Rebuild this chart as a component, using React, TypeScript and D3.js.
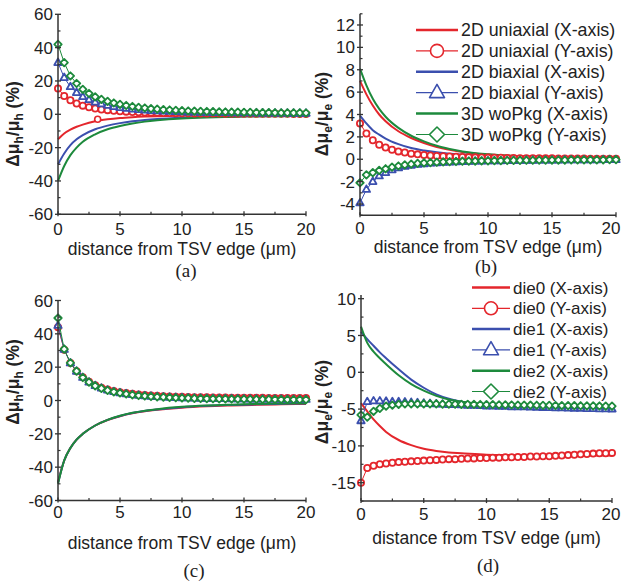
import React from "react";
import * as d3 from "d3";

// ---------- data ----------
const xsMarker = [0,0.5,1,1.5,2,2.5,3,3.5,4,4.5,5,5.5,6,6.5,7,7.5,8,8.5,9,9.5,10,10.5,11,11.5,12,12.5,13,13.5,14,14.5,15,15.5,16,16.5,17,17.5,18,18.5,19,19.5,20];
const xsLine = [0,0.5,1,1.5,2,3,4,5,6,7,8,10,12,14,16,18,20];
const xTicks = [0,5,10,15,20];
const xMinor = [2.5,7.5,12.5,17.5];

// (a) hole mobility, 2D/3D
const aRedX = [-15,-11.5,-9.2,-7.5,-6.2,-4.2,-3.0,-2.2,-1.7,-1.35,-1.1,-0.75,-0.55,-0.45,-0.38,-0.32,-0.28];
const aBlueX = [-30,-23.5,-18.5,-15,-12.5,-9,-6.8,-5.3,-4.2,-3.4,-2.8,-2.0,-1.5,-1.2,-1.0,-0.88,-0.8];
const aGreenX = [-40,-31,-24.5,-20,-16.5,-12,-9,-7,-5.5,-4.4,-3.6,-2.5,-1.9,-1.55,-1.3,-1.1,-1.0];
const aRedY = [15.5,11,8.4,6.5,5.2,4.2,3.5,2.9,2.5,2.1,1.8,1.6,1.4,1.25,1.1,1.0,0.9,0.82,0.75,0.68,0.62,0.58,0.54,0.5,0.47,0.44,0.42,0.4,0.38,0.36,0.34,0.33,0.32,0.3,0.29,0.28,0.27,0.26,0.25,0.24,0.23];
const aBlueY = [31,22,16.5,13,10.5,8.7,7.3,6.2,5.3,4.6,4.0,3.5,3.1,2.8,2.5,2.2,2.0,1.8,1.65,1.5,1.4,1.3,1.2,1.1,1.05,1.0,0.95,0.9,0.85,0.8,0.78,0.75,0.72,0.7,0.67,0.65,0.62,0.6,0.58,0.56,0.55];
const aGreenY = [42,31,23,18.5,15,12.5,10.5,9,7.8,6.8,6,5.3,4.7,4.2,3.8,3.4,3.1,2.8,2.6,2.4,2.2,2.0,1.9,1.8,1.7,1.6,1.5,1.4,1.35,1.3,1.2,1.15,1.1,1.05,1.0,0.95,0.9,0.88,0.85,0.82,0.8];
const aRedXMarkX = [3.2];
const aRedXMarkY = [-3];

// (b) electron mobility, 2D/3D
const bRedX = [7.0,5.8,4.8,4.0,3.4,2.5,1.9,1.45,1.1,0.85,0.65,0.42,0.3,0.22,0.17,0.13,0.1];
const bBlueX = [3.9,3.2,2.6,2.2,1.85,1.35,1.0,0.78,0.62,0.5,0.42,0.3,0.22,0.17,0.13,0.1,0.08];
const bGreenX = [8.1,6.6,5.4,4.5,3.8,2.8,2.1,1.6,1.2,0.92,0.7,0.45,0.3,0.22,0.17,0.13,0.1];
const bRedY = [3.2,2.3,1.7,1.3,1.05,0.85,0.7,0.6,0.5,0.44,0.38,0.34,0.3,0.27,0.24,0.22,0.2,0.18,0.17,0.16,0.15,0.14,0.13,0.12,0.11,0.1,0.1,0.09,0.09,0.08,0.08,0.07,0.07,0.06,0.06,0.06,0.05,0.05,0.05,0.04,0.04];
const bBlueY = [-3.9,-2.7,-2.0,-1.5,-1.2,-0.95,-0.78,-0.65,-0.55,-0.47,-0.41,-0.36,-0.32,-0.29,-0.26,-0.24,-0.22,-0.2,-0.18,-0.17,-0.16,-0.15,-0.14,-0.13,-0.12,-0.11,-0.1,-0.1,-0.09,-0.09,-0.08,-0.08,-0.07,-0.07,-0.07,-0.06,-0.06,-0.06,-0.05,-0.05,-0.05];
const bGreenY = [-2.1,-1.4,-1.2,-1.0,-0.85,-0.7,-0.6,-0.5,-0.43,-0.37,-0.33,-0.3,-0.27,-0.24,-0.22,-0.2,-0.18,-0.17,-0.16,-0.15,-0.14,-0.13,-0.12,-0.11,-0.1,-0.1,-0.09,-0.09,-0.08,-0.08,-0.07,-0.07,-0.07,-0.06,-0.06,-0.06,-0.05,-0.05,-0.05,-0.04,-0.04];

// (c) hole mobility, dies
const cRedX = [-49,-36,-28.5,-23.5,-20,-15,-11.7,-9.4,-7.7,-6.5,-5.6,-4.3,-3.5,-3.0,-2.6,-2.3,-2.1];
const cBlueX = [-49.5,-36,-28.5,-23.5,-20,-15,-11.6,-9.3,-7.5,-6.3,-5.4,-4.0,-3.2,-2.7,-2.3,-2.0,-1.8];
const cGreenX = [-50,-36,-28.5,-23.5,-20,-15,-11.6,-9.2,-7.4,-6.2,-5.2,-3.8,-3.0,-2.5,-2.1,-1.8,-1.6];
const cRedY = [44,30.5,22.5,17.6,14,11.3,9.2,7.7,6.6,5.7,5.0,4.5,4.0,3.6,3.3,3.0,2.8,2.6,2.45,2.3,2.2,2.1,2.0,1.95,1.9,1.85,1.8,1.75,1.7,1.68,1.65,1.62,1.6,1.58,1.56,1.54,1.52,1.5,1.5,1.5,1.5];
const cBlueY = [45,30.6,22.5,17.5,13.8,11,8.9,7.4,6.2,5.3,4.6,4.0,3.5,3.1,2.8,2.5,2.3,2.1,1.9,1.75,1.6,1.5,1.4,1.3,1.22,1.15,1.08,1.02,0.97,0.92,0.88,0.84,0.8,0.77,0.74,0.71,0.68,0.66,0.64,0.62,0.6];
const cGreenY = [49.5,30.8,22.6,17.6,13.8,11,8.8,7.3,6.1,5.2,4.5,3.9,3.4,3.0,2.7,2.4,2.2,2.0,1.8,1.65,1.5,1.4,1.3,1.2,1.12,1.05,1.0,0.95,0.9,0.85,0.8,0.76,0.72,0.69,0.66,0.63,0.6,0.58,0.56,0.54,0.52];

// (d) electron mobility, dies
const dRedX = [-4.2,-5.3,-6.4,-7.3,-8.1,-9.2,-9.9,-10.4,-10.7,-10.9,-11.0,-11.2,-11.25,-11.3,-11.3,-11.3,-11.3];
const dBlueX = [5.5,4.5,3.6,2.7,1.9,0.4,-1.0,-2.1,-3.0,-3.6,-4.0,-4.4,-4.6,-4.7,-4.8,-4.9,-5.0];
const dGreenX = [6.2,4.0,2.8,1.9,1.1,-0.4,-1.6,-2.5,-3.2,-3.7,-4.0,-4.3,-4.4,-4.45,-4.5,-4.55,-4.6];
const dRedY = [-15,-13,-12.7,-12.5,-12.4,-12.3,-12.2,-12.15,-12.1,-12.05,-12.0,-11.95,-11.9,-11.85,-11.8,-11.8,-11.75,-11.7,-11.7,-11.65,-11.65,-11.6,-11.6,-11.55,-11.55,-11.5,-11.5,-11.45,-11.45,-11.4,-11.4,-11.35,-11.3,-11.25,-11.2,-11.15,-11.1,-11.05,-11.0,-11.0,-10.95];
const dBlueY = [-6.6,-4.0,-3.9,-3.9,-3.95,-4.0,-4.0,-4.05,-4.1,-4.15,-4.2,-4.25,-4.3,-4.35,-4.4,-4.4,-4.45,-4.5,-4.5,-4.55,-4.6,-4.6,-4.65,-4.65,-4.7,-4.7,-4.72,-4.75,-4.77,-4.8,-4.82,-4.84,-4.86,-4.88,-4.9,-4.92,-4.94,-4.95,-4.97,-4.98,-5.0];
const dGreenY = [-5.8,-6.1,-5.3,-4.9,-4.6,-4.45,-4.35,-4.3,-4.3,-4.3,-4.3,-4.3,-4.3,-4.32,-4.33,-4.34,-4.35,-4.36,-4.37,-4.38,-4.4,-4.4,-4.42,-4.43,-4.44,-4.45,-4.46,-4.47,-4.48,-4.49,-4.5,-4.51,-4.52,-4.53,-4.54,-4.55,-4.56,-4.57,-4.58,-4.59,-4.6];

const legendB = ["2D uniaxial (X-axis)","2D uniaxial (Y-axis)","2D biaxial (X-axis)","2D biaxial (Y-axis)","3D woPkg (X-axis)","3D woPkg (Y-axis)"];
const legendD = ["die0 (X-axis)","die0 (Y-axis)","die1 (X-axis)","die1 (Y-axis)","die2 (X-axis)","die2 (Y-axis)"];

const yTicksH = [-60,-40,-20,0,20,40,60];
const yMinorH = [-50,-30,-10,10,30,50];
const yTicksB = [-4,-2,0,2,4,6,8,10,12];
const yMinorB = [-5,-3,-1,1,3,5,7,9,11,13];
const yTicksD = [-15,-10,-5,0,5,10];
const yMinorD = [-17.5,-12.5,-7.5,-2.5,2.5,7.5];

// ---------- styles ----------
const RED = "#e4262c";
const BLUE = "#3b4fae";
const GREEN = "#1d8a3c";
const AX = "#333";
const SANS = "'Liberation Sans', Arial, Helvetica, sans-serif";
const SERIF = "'Liberation Serif', 'Times New Roman', serif";

type Shape = "circle" | "triangle" | "diamond";

function Marker({ shape, cx, cy, s, color, sw }: { shape: Shape; cx: number; cy: number; s: number; color: string; sw: number }) {
  if (shape === "circle") return <circle cx={cx} cy={cy} r={s} fill="#fff" stroke={color} strokeWidth={sw} />;
  if (shape === "triangle") {
    const d = `M${cx},${cy - s * 1.1} L${cx + s},${cy + s * 0.65} L${cx - s},${cy + s * 0.65} Z`;
    return <path d={d} fill="#fff" stroke={color} strokeWidth={sw} strokeLinejoin="round" />;
  }
  const d = `M${cx},${cy - s} L${cx + s},${cy} L${cx},${cy + s} L${cx - s},${cy} Z`;
  return <path d={d} fill="#fff" stroke={color} strokeWidth={sw} strokeLinejoin="round" />;
}

interface PanelCfg {
  xr: [number, number];
  yd: [number, number];
  yr: [number, number];
  yTicks: number[];
  yMinor: number[];
  lines: { vals: number[]; color: string }[];
  markers: { vals: number[]; color: string; shape: Shape }[];
  sub: string;
  yLabel: { x: number; y: number };
  tickBase: number;
  titleBase: number;
  letter: { text: string; x: number; y: number };
  legend?: { labels: string[]; y0: number; dy: number; x1: number; x2: number; tx: number; fs: number };
  extra?: { xs: number[]; ys: number[]; color: string };
}

function Panel({ c }: { c: PanelCfg }) {
  const x = d3.scaleLinear().domain([0, 20]).range(c.xr);
  const y = d3.scaleLinear().domain(c.yd).range(c.yr);
  const line = d3.line<number>().x((_, i) => x(xsLine[i])).y((v) => y(v)).curve(d3.curveMonotoneX);
  const mline = d3.line<number>().x((_, i) => x(xsMarker[i])).y((v) => y(v));
  const x0 = c.xr[0];
  const yb = c.yr[0];
  const xc = (c.xr[0] + c.xr[1]) / 2;
  return (
    <g>
      {c.lines.map((l, i) => (
        <path key={"l" + i} d={line(l.vals) || ""} fill="none" stroke={l.color} strokeWidth={2} />
      ))}
      {c.extra && c.extra.xs.map((xv, i) => (
        <Marker key={"e" + i} shape="circle" cx={x(xv)} cy={y(c.extra!.ys[i])} s={3} color={c.extra!.color} sw={1.6} />
      ))}
      {c.markers.map((m, i) => (
        <g key={"m" + i}>
          <path d={mline(m.vals) || ""} fill="none" stroke={m.color} strokeWidth={1} />
          {m.vals.map((v, j) => (
            <Marker key={j} shape={m.shape} cx={x(xsMarker[j])} cy={y(v)} s={m.shape === "circle" ? 3.1 : 3.7} color={m.color} sw={1.8} />
          ))}
        </g>
      ))}
      <line x1={x0} x2={x0} y1={c.yr[0]} y2={c.yr[1]} stroke={AX} strokeWidth={1.5} />
      <line x1={x0} x2={c.xr[1]} y1={yb} y2={yb} stroke={AX} strokeWidth={1.5} />
      {c.yTicks.map((t) => (
        <g key={"yt" + t}>
          <line x1={x0 - 3} x2={x0 + 3} y1={y(t)} y2={y(t)} stroke={AX} strokeWidth={1.3} />
          <text x={x0 - 5} y={y(t)} dy="0.36em" textAnchor="end" fontSize={17} fontFamily={SANS} fill="#222">{t}</text>
        </g>
      ))}
      {c.yMinor.map((t) => (
        <line key={"ym" + t} x1={x0} x2={x0 + 2.5} y1={y(t)} y2={y(t)} stroke={AX} strokeWidth={1.2} />
      ))}
      {xTicks.map((t) => (
        <g key={"xt" + t}>
          <line x1={x(t)} x2={x(t)} y1={yb - 3} y2={yb + 2} stroke={AX} strokeWidth={1.3} />
          <text x={Math.min(x(t), 611)} y={c.tickBase} textAnchor="middle" fontSize={17} fontFamily={SANS} fill="#222">{t}</text>
        </g>
      ))}
      {xMinor.map((t) => (
        <line key={"xm" + t} x1={x(t)} x2={x(t)} y1={yb - 2.5} y2={yb} stroke={AX} strokeWidth={1.2} />
      ))}
      <text x={xc} y={c.titleBase} textAnchor="middle" fontSize={17.5} fontFamily={SANS} fill="#222">distance from TSV edge (μm)</text>
      <text transform={`translate(${c.yLabel.x},${c.yLabel.y}) rotate(-90)`} textAnchor="middle" fontSize={17.5} fontWeight="bold" fontFamily={SANS} fill="#222">
        Δμ<tspan dy={4} fontSize={12}>{c.sub}</tspan><tspan dy={-4}>/μ</tspan><tspan dy={4} fontSize={12}>{c.sub}</tspan><tspan dy={-4}> (%)</tspan>
      </text>
      <text x={c.letter.x} y={c.letter.y} textAnchor="middle" fontSize={19} fontFamily={SERIF} fill="#222">{c.letter.text}</text>
      {c.legend && c.legend.labels.map((lab, i) => {
        const lg = c.legend!;
        const ly = lg.y0 + i * lg.dy;
        const isX = i % 2 === 0;
        const color = [RED, BLUE, GREEN][Math.floor(i / 2)];
        const shape: Shape = (["circle", "triangle", "diamond"] as Shape[])[Math.floor(i / 2)];
        return (
          <g key={"lg" + i}>
            <line x1={lg.x1} x2={lg.x2} y1={ly} y2={ly} stroke={color} strokeWidth={isX ? 2.5 : 1.2} />
            {!isX && <Marker shape={shape} cx={(lg.x1 + lg.x2) / 2} cy={ly} s={shape === "circle" ? 6.5 : 7.5} color={color} sw={1.6} />}
            <text x={lg.tx} y={ly} dy="0.36em" fontSize={lg.fs} fontFamily={SANS} fill="#222">{lab}</text>
          </g>
        );
      })}
    </g>
  );
}

const panels: PanelCfg[] = [
  {
    xr: [58, 306], yd: [-60, 60], yr: [214.3, 14.3], yTicks: yTicksH, yMinor: yMinorH,
    lines: [{ vals: aRedX, color: RED }, { vals: aBlueX, color: BLUE }, { vals: aGreenX, color: GREEN }],
    markers: [{ vals: aRedY, color: RED, shape: "circle" }, { vals: aBlueY, color: BLUE, shape: "triangle" }, { vals: aGreenY, color: GREEN, shape: "diamond" }],
    sub: "h", yLabel: { x: 19, y: 124 }, tickBase: 235, titleBase: 255,
    letter: { text: "(a)", x: 186, y: 277 },
    extra: { xs: aRedXMarkX, ys: aRedXMarkY, color: RED },
  },
  {
    xr: [360, 616], yd: [-5, 13], yr: [215.2, 13.8], yTicks: yTicksB, yMinor: yMinorB,
    lines: [{ vals: bRedX, color: RED }, { vals: bBlueX, color: BLUE }, { vals: bGreenX, color: GREEN }],
    markers: [{ vals: bRedY, color: RED, shape: "circle" }, { vals: bBlueY, color: BLUE, shape: "triangle" }, { vals: bGreenY, color: GREEN, shape: "diamond" }],
    sub: "e", yLabel: { x: 328, y: 114 }, tickBase: 234, titleBase: 253,
    letter: { text: "(b)", x: 486, y: 273 },
    legend: { labels: legendB, y0: 30, dy: 20.9, x1: 416, x2: 458, tx: 461, fs: 17.8 },
  },
  {
    xr: [58, 306], yd: [-60, 60], yr: [500.5, 300.5], yTicks: yTicksH, yMinor: yMinorH,
    lines: [{ vals: cRedX, color: RED }, { vals: cBlueX, color: BLUE }, { vals: cGreenX, color: GREEN }],
    markers: [{ vals: cRedY, color: RED, shape: "circle" }, { vals: cBlueY, color: BLUE, shape: "triangle" }, { vals: cGreenY, color: GREEN, shape: "diamond" }],
    sub: "h", yLabel: { x: 19, y: 382 }, tickBase: 518, titleBase: 549,
    letter: { text: "(c)", x: 194, y: 577 },
  },
  {
    xr: [361, 612], yd: [-17.5, 10.5], yr: [501.1, 295.0], yTicks: yTicksD, yMinor: yMinorD,
    lines: [{ vals: dRedX, color: RED }, { vals: dBlueX, color: BLUE }, { vals: dGreenX, color: GREEN }],
    markers: [{ vals: dRedY, color: RED, shape: "circle" }, { vals: dBlueY, color: BLUE, shape: "triangle" }, { vals: dGreenY, color: GREEN, shape: "diamond" }],
    sub: "e", yLabel: { x: 328, y: 402 }, tickBase: 520, titleBase: 544,
    letter: { text: "(d)", x: 488, y: 572 },
    legend: { labels: legendD, y0: 287.5, dy: 20.8, x1: 472, x2: 510, tx: 513, fs: 17 },
  },
];

export default function App() {
  return (
    <svg width={621} height={581} style={{ position: "absolute", left: 0, top: 0, background: "#fff" }}>
      <rect width={621} height={581} fill="#fff" />
      {panels.map((p, i) => (
        <Panel key={i} c={p} />
      ))}
    </svg>
  );
}
